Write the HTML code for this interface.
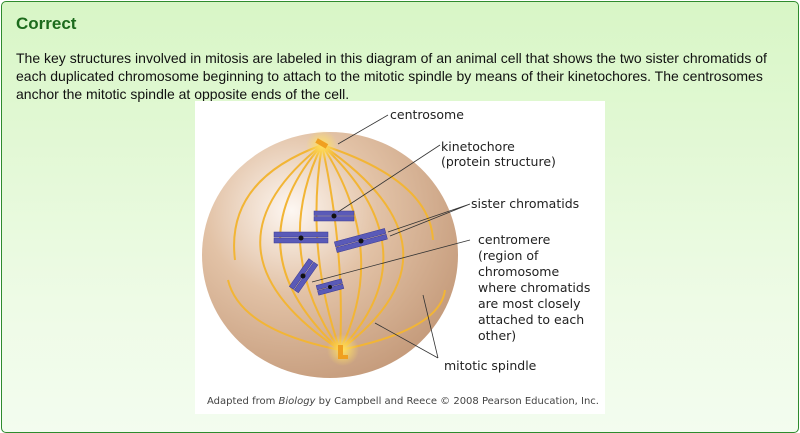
<!DOCTYPE html>
<html><head><style>
body{margin:0;width:800px;height:433px;overflow:hidden;font-family:"Liberation Sans",sans-serif;}
.box{position:absolute;left:1px;top:1px;width:796px;height:430px;border:1px solid #2e8b2e;border-radius:5px;background:linear-gradient(#d8f6c6,#eefbe6 70%,#f3fcef);}
h1{position:absolute;left:16px;top:14px;margin:0;font-size:17px;color:#1d6b1d;font-weight:bold;}
p{position:absolute;left:16px;top:49px;margin:0;width:760px;font-size:14px;line-height:18px;color:#111;}
.img{position:absolute;left:195px;top:101px;width:410px;height:313px;background:#fff;}
</style></head><body>
<div class="box"></div>
<h1>Correct</h1>
<p>The key structures involved in mitosis are labeled in this diagram of an animal cell that shows the two sister chromatids of each duplicated chromosome beginning to attach to the mitotic spindle by means of their kinetochores. The centrosomes anchor the mitotic spindle at opposite ends of the cell.</p>
<div class="img">
<svg width="410" height="313" viewBox="195 101 410 313" font-family="'DejaVu Sans',sans-serif" font-size="12.5" fill="#222">
<defs><radialGradient id="g" cx="0.35" cy="0.32" r="0.75"><stop offset="0" stop-color="#fdf7f2"/><stop offset="0.45" stop-color="#e2c2a6"/><stop offset="1" stop-color="#c49a7a"/></radialGradient>
<radialGradient id="s"><stop offset="0" stop-color="#ffe060"/><stop offset="1" stop-color="#ffe060" stop-opacity="0"/></radialGradient></defs>
<ellipse cx="330" cy="255" rx="128" ry="123" fill="url(#g)"/>
<g fill="none" stroke="#f2b535" stroke-width="2">
<path d="M322 145 Q190 250 340 350"/><path d="M322 145 Q230 250 340 350"/><path d="M322 145 Q270 250 340 350"/><path d="M322 145 Q305 250 340 350"/>
<path d="M322 145 Q345 250 340 350"/><path d="M322 145 Q390 250 340 350"/><path d="M322 145 Q435 250 340 350"/><path d="M322 145 Q475 250 340 350"/>
<path d="M322 145 Q225 180 235 260"/><path d="M322 145 Q430 180 433 240"/><path d="M340 350 Q240 330 228 280"/><path d="M340 350 Q440 330 445 290"/>
</g>
<circle cx="322" cy="146" r="16" fill="url(#s)"/><circle cx="343" cy="350" r="16" fill="url(#s)"/>
<rect x="316" y="141" width="12" height="5" fill="#f0a020" transform="rotate(30 322 143)"/>
<rect x="338" y="345" width="5" height="12" fill="#f0a020"/><rect x="338" y="355" width="10" height="4" fill="#f0a020"/>
<g fill="#5a5ab8" stroke="#3a3a90" stroke-width="0.5">
<rect x="314" y="211" width="40" height="4.5"/><rect x="314" y="216.5" width="40" height="4.5"/>
<rect x="274" y="232" width="54" height="5"/><rect x="274" y="238" width="54" height="5"/>
<g transform="rotate(-15 361 241)"><rect x="335" y="235" width="52" height="5"/><rect x="335" y="241" width="52" height="5"/></g>
<g transform="rotate(-55 304 276)"><rect x="287" y="270" width="34" height="5"/><rect x="287" y="276" width="34" height="5"/></g>
<g transform="rotate(-15 330 287)"><rect x="317" y="282" width="26" height="4.5"/><rect x="317" y="287.5" width="26" height="4.5"/></g>
</g>
<g fill="#111"><circle cx="334" cy="216" r="2.5"/><circle cx="301" cy="238" r="2.5"/><circle cx="361" cy="241" r="2.5"/><circle cx="303" cy="276" r="2.5"/><circle cx="330" cy="287" r="2"/></g>
<g stroke="#333" stroke-width="0.8" fill="none">
<path d="M338 144 L388 115"/><path d="M338 212 L440 145"/><path d="M390 236 L470 204 M388 232 L470 204"/>
<path d="M312 282 L470 240"/><path d="M375 323 L438 358 M423 295 L438 358"/>
</g>
<text x="390" y="119">centrosome</text>
<text x="441" y="151">kinetochore</text><text x="441" y="166">(protein structure)</text>
<text x="471" y="208">sister chromatids</text>
<text x="478" y="244">centromere</text><text x="478" y="260">(region of</text><text x="478" y="276">chromosome</text><text x="478" y="292">where chromatids</text><text x="478" y="308">are most closely</text><text x="478" y="324">attached to each</text><text x="478" y="340">other)</text>
<text x="444" y="370">mitotic spindle</text>
<text x="207" y="404" font-size="10" fill="#444">Adapted from <tspan font-style="italic">Biology</tspan> by Campbell and Reece © 2008 Pearson Education, Inc.</text>
</svg></div>
</body></html>
